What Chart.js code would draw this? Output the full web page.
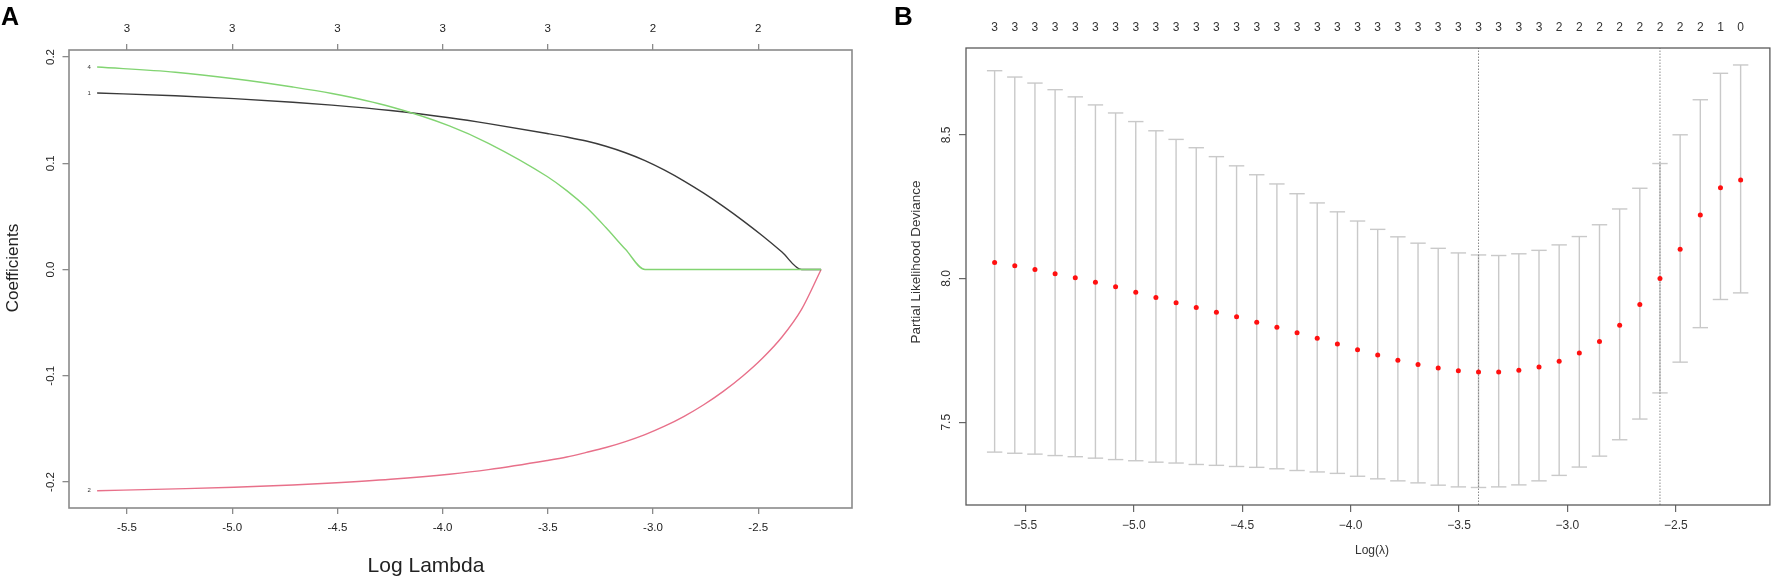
<!DOCTYPE html>
<html><head><meta charset="utf-8">
<script src="https://cdn.jsdelivr.net/npm/chart.js@4.4.1/dist/chart.umd.min.js"></script>
<style>
html,body{margin:0;padding:0;background:#fff;}
#wrap{position:relative;width:1779px;height:576px;overflow:hidden;background:#fff;}
.pane{position:absolute;top:0;height:576px;}
</style></head><body>
<div id="wrap">
  <div class="pane" style="left:0;width:889px"><canvas id="ca" width="889" height="576"></canvas></div>
  <div class="pane" style="left:889px;width:890px"><canvas id="cb" width="890" height="576"></canvas></div>
</div>
<script>
// ---------- Panel A: coefficient paths ----------
const pathLogLambda = [-5.642, -5.270, -4.991, -4.712, -4.526, -4.247, -3.968, -3.782, -3.503, -3.410, -3.317, -3.224, -3.131, -3.038, -2.945, -2.852, -2.759, -2.666, -2.573, -2.480, -2.387, -2.294, -2.201];
const coefVar1 = [0.1661, 0.1635, 0.1608, 0.1574, 0.1547, 0.1496, 0.1428, 0.1373, 0.1280, 0.1247, 0.1209, 0.1160, 0.1099, 0.1025, 0.0935, 0.0832, 0.0718, 0.0594, 0.0460, 0.0317, 0.0164, 0.0, 0.0];
const coefVar2 = [-0.2082, -0.2065, -0.2050, -0.2028, -0.2009, -0.1974, -0.1927, -0.1884, -0.1798, -0.1765, -0.1722, -0.1676, -0.1620, -0.1554, -0.1475, -0.1382, -0.1273, -0.1147, -0.1002, -0.0835, -0.0635, -0.0375, 0.0];
const coefVar4 = [0.1906, 0.1857, 0.1796, 0.1718, 0.1656, 0.1532, 0.1352, 0.1188, 0.0875, 0.0742, 0.0585, 0.0395, 0.0190, 0.0, 0.0, 0.0, 0.0, 0.0, 0.0, 0.0, 0.0, 0.0, 0.0];
const pathXTickValues = [-5.5, -5.0, -4.5, -4.0, -3.5, -3.0, -2.5];
const pathXTickLabels = ['-5.5', '-5.0', '-4.5', '-4.0', '-3.5', '-3.0', '-2.5'];
const pathTopLabels = ['3', '3', '3', '3', '3', '2', '2'];
const pathYTickValues = [-0.2, -0.1, 0.0, 0.1, 0.2];
const pathYTickLabels = ['-0.2', '-0.1', '0.0', '0.1', '0.2'];

// ---------- Panel B: cross-validation ----------
const cvLogLambda = [-5.642, -5.549, -5.456, -5.363, -5.270, -5.177, -5.084, -4.991, -4.898, -4.805,
  -4.712, -4.619, -4.526, -4.433, -4.340, -4.247, -4.154, -4.061, -3.968, -3.875,
  -3.782, -3.689, -3.596, -3.503, -3.410, -3.317, -3.224, -3.131, -3.038, -2.945,
  -2.852, -2.759, -2.666, -2.573, -2.480, -2.387, -2.294, -2.201];
const cvMean = [8.056, 8.044, 8.031, 8.017, 8.003, 7.987, 7.971, 7.952, 7.934, 7.916,
  7.899, 7.883, 7.867, 7.848, 7.830, 7.811, 7.792, 7.772, 7.752, 7.734,
  7.716, 7.701, 7.689, 7.679, 7.675, 7.675, 7.681, 7.692, 7.712, 7.741,
  7.781, 7.837, 7.910, 8.000, 8.102, 8.221, 8.316, 8.343];
const cvUpper = [8.723, 8.701, 8.680, 8.657, 8.632, 8.604, 8.576, 8.546, 8.514, 8.484,
  8.455, 8.424, 8.392, 8.361, 8.329, 8.295, 8.263, 8.232, 8.200, 8.171,
  8.145, 8.123, 8.105, 8.089, 8.082, 8.080, 8.086, 8.098, 8.117, 8.146,
  8.187, 8.242, 8.314, 8.400, 8.500, 8.622, 8.714, 8.743];
const cvLower = [7.396, 7.392, 7.389, 7.384, 7.380, 7.375, 7.370, 7.366, 7.361, 7.358,
  7.353, 7.350, 7.346, 7.343, 7.338, 7.332, 7.327, 7.322, 7.312, 7.303,
  7.296, 7.289, 7.281, 7.275, 7.273, 7.275, 7.282, 7.296, 7.315, 7.344,
  7.382, 7.439, 7.511, 7.602, 7.709, 7.829, 7.927, 7.950];
const cvNonzero = ['3','3','3','3','3','3','3','3','3','3','3','3','3','3','3','3','3','3','3','3',
  '3','3','3','3','3','3','3','3','2','2','2','2','2','2','2','2','1','0'];
const lambdaMinLog = -3.410;
const lambda1seLog = -2.573;
const cvXTickValues = [-5.5, -5.0, -4.5, -4.0, -3.5, -3.0, -2.5];
const cvXTickLabels = ['\u22125.5', '\u22125.0', '\u22124.5', '\u22124.0', '\u22123.5', '\u22123.0', '\u22122.5'];
const cvYTickValues = [7.5, 8.0, 8.5];
const cvYTickLabels = ['7.5', '8.0', '8.5'];

const FONT = "'Liberation Sans', Arial, Helvetica, sans-serif";

// ---------- Chart A ----------
const aX = {min: -5.7757, max: -2.0542};
const aY = {min: -0.2245, max: 0.2066};
const frameA = '#8a8a8a';

const panelAPlugin = {
  id: 'panelA',
  afterDraw(chart) {
    const ctx = chart.ctx, ca = chart.chartArea, ys = chart.scales.y;
    ctx.save();
    ctx.strokeStyle = frameA; ctx.lineWidth = 1.6;
    ctx.strokeRect(ca.left, ca.top, ca.right - ca.left, ca.bottom - ca.top);
    ctx.fillStyle = '#222';
    ctx.font = '11.5px ' + FONT; ctx.textAlign = 'center'; ctx.textBaseline = 'middle';
    pathYTickValues.forEach((v, i) => {
      const py = ys.getPixelForValue(v);
      ctx.save(); ctx.translate(50.5, py); ctx.rotate(-Math.PI / 2);
      ctx.fillText(pathYTickLabels[i], 0, 0); ctx.restore();
    });
    ctx.font = '17px ' + FONT;
    ctx.save(); ctx.translate(13, 268); ctx.rotate(-Math.PI / 2);
    ctx.fillText('Coefficients', 0, 0); ctx.restore();
    ctx.font = '21px ' + FONT;
    ctx.fillText('Log Lambda', 426, 566);
    ctx.font = 'bold 25px ' + FONT; ctx.textAlign = 'left'; ctx.textBaseline = 'alphabetic';
    ctx.fillStyle = '#000';
    ctx.fillText('A', 1, 25);
    // curve labels
    ctx.font = '6px ' + FONT; ctx.textAlign = 'center'; ctx.textBaseline = 'middle'; ctx.fillStyle = '#333';
    chart.data.datasets.forEach((ds, i) => {
      const pt = chart.getDatasetMeta(i).data[0];
      ctx.fillText(ds.label, pt.x - 8, pt.y);
    });
    ctx.restore();
  }
};

const mk = (xs, ys) => xs.map((x, i) => ({x: x, y: ys[i]}));

new Chart(document.getElementById('ca'), {
  type: 'line',
  data: {datasets: [
    {label: '4', data: mk(pathLogLambda, coefVar4), borderColor: '#82d472', borderWidth: 1.4, pointRadius: 0, cubicInterpolationMode: 'monotone', xAxisID: 'x', yAxisID: 'y'},
    {label: '1', data: mk(pathLogLambda, coefVar1), borderColor: '#3a3a3a', borderWidth: 1.4, pointRadius: 0, cubicInterpolationMode: 'monotone', xAxisID: 'x', yAxisID: 'y'},
    {label: '2', data: mk(pathLogLambda, coefVar2), borderColor: '#e8708a', borderWidth: 1.4, pointRadius: 0, cubicInterpolationMode: 'monotone', xAxisID: 'x', yAxisID: 'y'}
  ]},
  options: {
    responsive: false, animation: false, events: [],
    layout: {padding: {left: 0, right: 37, top: 0, bottom: 0}},
    plugins: {legend: {display: false}, tooltip: {enabled: false}},
    scales: {
      x: {type: 'linear', axis: 'x', position: 'bottom', min: aX.min, max: aX.max,
        afterBuildTicks: s => { s.ticks = pathXTickValues.map(v => ({value: v})); },
        afterFit: s => { s.height = 68; },
        border: {display: false},
        grid: {drawOnChartArea: false, drawTicks: true, tickLength: 6, color: frameA, lineWidth: 1.3},
        ticks: {autoSkip: false, maxRotation: 0, minRotation: 0, padding: 7.4, color: '#222',
          font: {family: FONT, size: 11.5}, callback: (v, i) => pathXTickLabels[i]}},
      xTop: {type: 'linear', axis: 'x', position: 'top', min: aX.min, max: aX.max,
        afterBuildTicks: s => { s.ticks = pathXTickValues.map(v => ({value: v})); },
        afterFit: s => { s.height = 50; },
        border: {display: false},
        grid: {drawOnChartArea: false, drawTicks: true, tickLength: 6, color: frameA, lineWidth: 1.3},
        ticks: {autoSkip: false, maxRotation: 0, minRotation: 0, padding: 8.4, color: '#222',
          font: {family: FONT, size: 11.5}, callback: (v, i) => pathTopLabels[i]}},
      y: {type: 'linear', axis: 'y', position: 'left', min: aY.min, max: aY.max,
        afterBuildTicks: s => { s.ticks = pathYTickValues.map(v => ({value: v})); },
        afterFit: s => { s.width = 69; },
        border: {display: false},
        grid: {drawOnChartArea: false, drawTicks: true, tickLength: 6.5, color: frameA, lineWidth: 1.3},
        ticks: {display: false}}
    }
  },
  plugins: [panelAPlugin]
});

// ---------- Chart B ----------
const bX = {min: -5.774, max: -2.066};
const bY = {min: 7.212, max: 8.802};
const frameB = '#5a5a5a';
const whisker = '#c9c9c9';

const panelBPlugin = {
  id: 'panelB',
  afterDraw(chart) {
    const ctx = chart.ctx, ca = chart.chartArea, ys = chart.scales.y;
    ctx.save();
    ctx.strokeStyle = frameB; ctx.lineWidth = 1.3;
    ctx.strokeRect(ca.left, ca.top, ca.right - ca.left, ca.bottom - ca.top);
    ctx.fillStyle = '#333';
    ctx.font = '12px ' + FONT; ctx.textAlign = 'center'; ctx.textBaseline = 'middle';
    cvYTickValues.forEach((v, i) => {
      const py = ys.getPixelForValue(v);
      ctx.save(); ctx.translate(58, py); ctx.rotate(-Math.PI / 2);
      ctx.fillText(cvYTickLabels[i], 0, 0); ctx.restore();
    });
    ctx.font = '13.5px ' + FONT;
    ctx.save(); ctx.translate(27, 262); ctx.rotate(-Math.PI / 2);
    ctx.fillText('Partial Likelihood Deviance', 0, 0); ctx.restore();
    ctx.font = '12px ' + FONT;
    ctx.fillText('Log(\u03BB)', 483, 551);
    ctx.font = 'bold 26px ' + FONT; ctx.textAlign = 'left'; ctx.textBaseline = 'alphabetic';
    ctx.fillStyle = '#000';
    ctx.fillText('B', 5, 25);
    ctx.restore();
  }
};

const whiskerData = [];
cvLogLambda.forEach((x, i) => {
  whiskerData.push({x: x, y: cvLower[i]}, {x: x, y: cvUpper[i]}, {x: x, y: null});
});

new Chart(document.getElementById('cb'), {
  type: 'line',
  data: {datasets: [
    {label: 'mean', data: mk(cvLogLambda, cvMean), showLine: false, pointRadius: 2.5, pointBackgroundColor: '#ff1010', pointBorderWidth: 0, xAxisID: 'x', yAxisID: 'y'},
    {label: 'lambda.min', data: [{x: lambdaMinLog, y: bY.min}, {x: lambdaMinLog, y: bY.max}], borderColor: '#8a8a8a', borderWidth: 1, borderDash: [1.5, 1.5], pointRadius: 0, xAxisID: 'x', yAxisID: 'y'},
    {label: 'lambda.1se', data: [{x: lambda1seLog, y: bY.min}, {x: lambda1seLog, y: bY.max}], borderColor: '#8a8a8a', borderWidth: 1, borderDash: [1.5, 1.5], pointRadius: 0, xAxisID: 'x', yAxisID: 'y'},
    {label: 'upper', data: mk(cvLogLambda, cvUpper), showLine: false, pointStyle: 'line', pointRadius: 7.7, pointBorderColor: whisker, pointBorderWidth: 1.4, xAxisID: 'x', yAxisID: 'y'},
    {label: 'lower', data: mk(cvLogLambda, cvLower), showLine: false, pointStyle: 'line', pointRadius: 7.7, pointBorderColor: whisker, pointBorderWidth: 1.4, xAxisID: 'x', yAxisID: 'y'},
    {label: 'whiskers', data: whiskerData, borderColor: whisker, borderWidth: 1.4, pointRadius: 0, spanGaps: false, xAxisID: 'x', yAxisID: 'y'}
  ]},
  options: {
    responsive: false, animation: false, events: [],
    layout: {padding: {left: 0, right: 1, top: 0, bottom: 0}},
    plugins: {legend: {display: false}, tooltip: {enabled: false}},
    scales: {
      x: {type: 'linear', axis: 'x', position: 'bottom', min: bX.min, max: bX.max,
        afterBuildTicks: s => { s.ticks = cvXTickValues.map(v => ({value: v})); },
        afterFit: s => { s.height = 71; },
        border: {display: false},
        grid: {drawOnChartArea: false, drawTicks: true, tickLength: 7, color: '#666', lineWidth: 1.2},
        ticks: {autoSkip: false, maxRotation: 0, minRotation: 0, padding: 6.8, color: '#333',
          font: {family: FONT, size: 12}, callback: (v, i) => cvXTickLabels[i]}},
      xTop: {type: 'linear', axis: 'x', position: 'top', min: bX.min, max: bX.max,
        afterBuildTicks: s => { s.ticks = cvLogLambda.map(v => ({value: v})); },
        afterFit: s => { s.height = 48; },
        border: {display: false},
        grid: {display: false, drawTicks: false},
        ticks: {autoSkip: false, maxRotation: 0, minRotation: 0, padding: 12.8, color: '#333',
          font: {family: FONT, size: 12}, callback: (v, i) => cvNonzero[i]}},
      y: {type: 'linear', axis: 'y', position: 'left', min: bY.min, max: bY.max,
        afterBuildTicks: s => { s.ticks = cvYTickValues.map(v => ({value: v})); },
        afterFit: s => { s.width = 77; },
        border: {display: false},
        grid: {drawOnChartArea: false, drawTicks: true, tickLength: 7, color: '#666', lineWidth: 1.2},
        ticks: {display: false}}
    }
  },
  plugins: [panelBPlugin]
});
</script>
</body></html>
